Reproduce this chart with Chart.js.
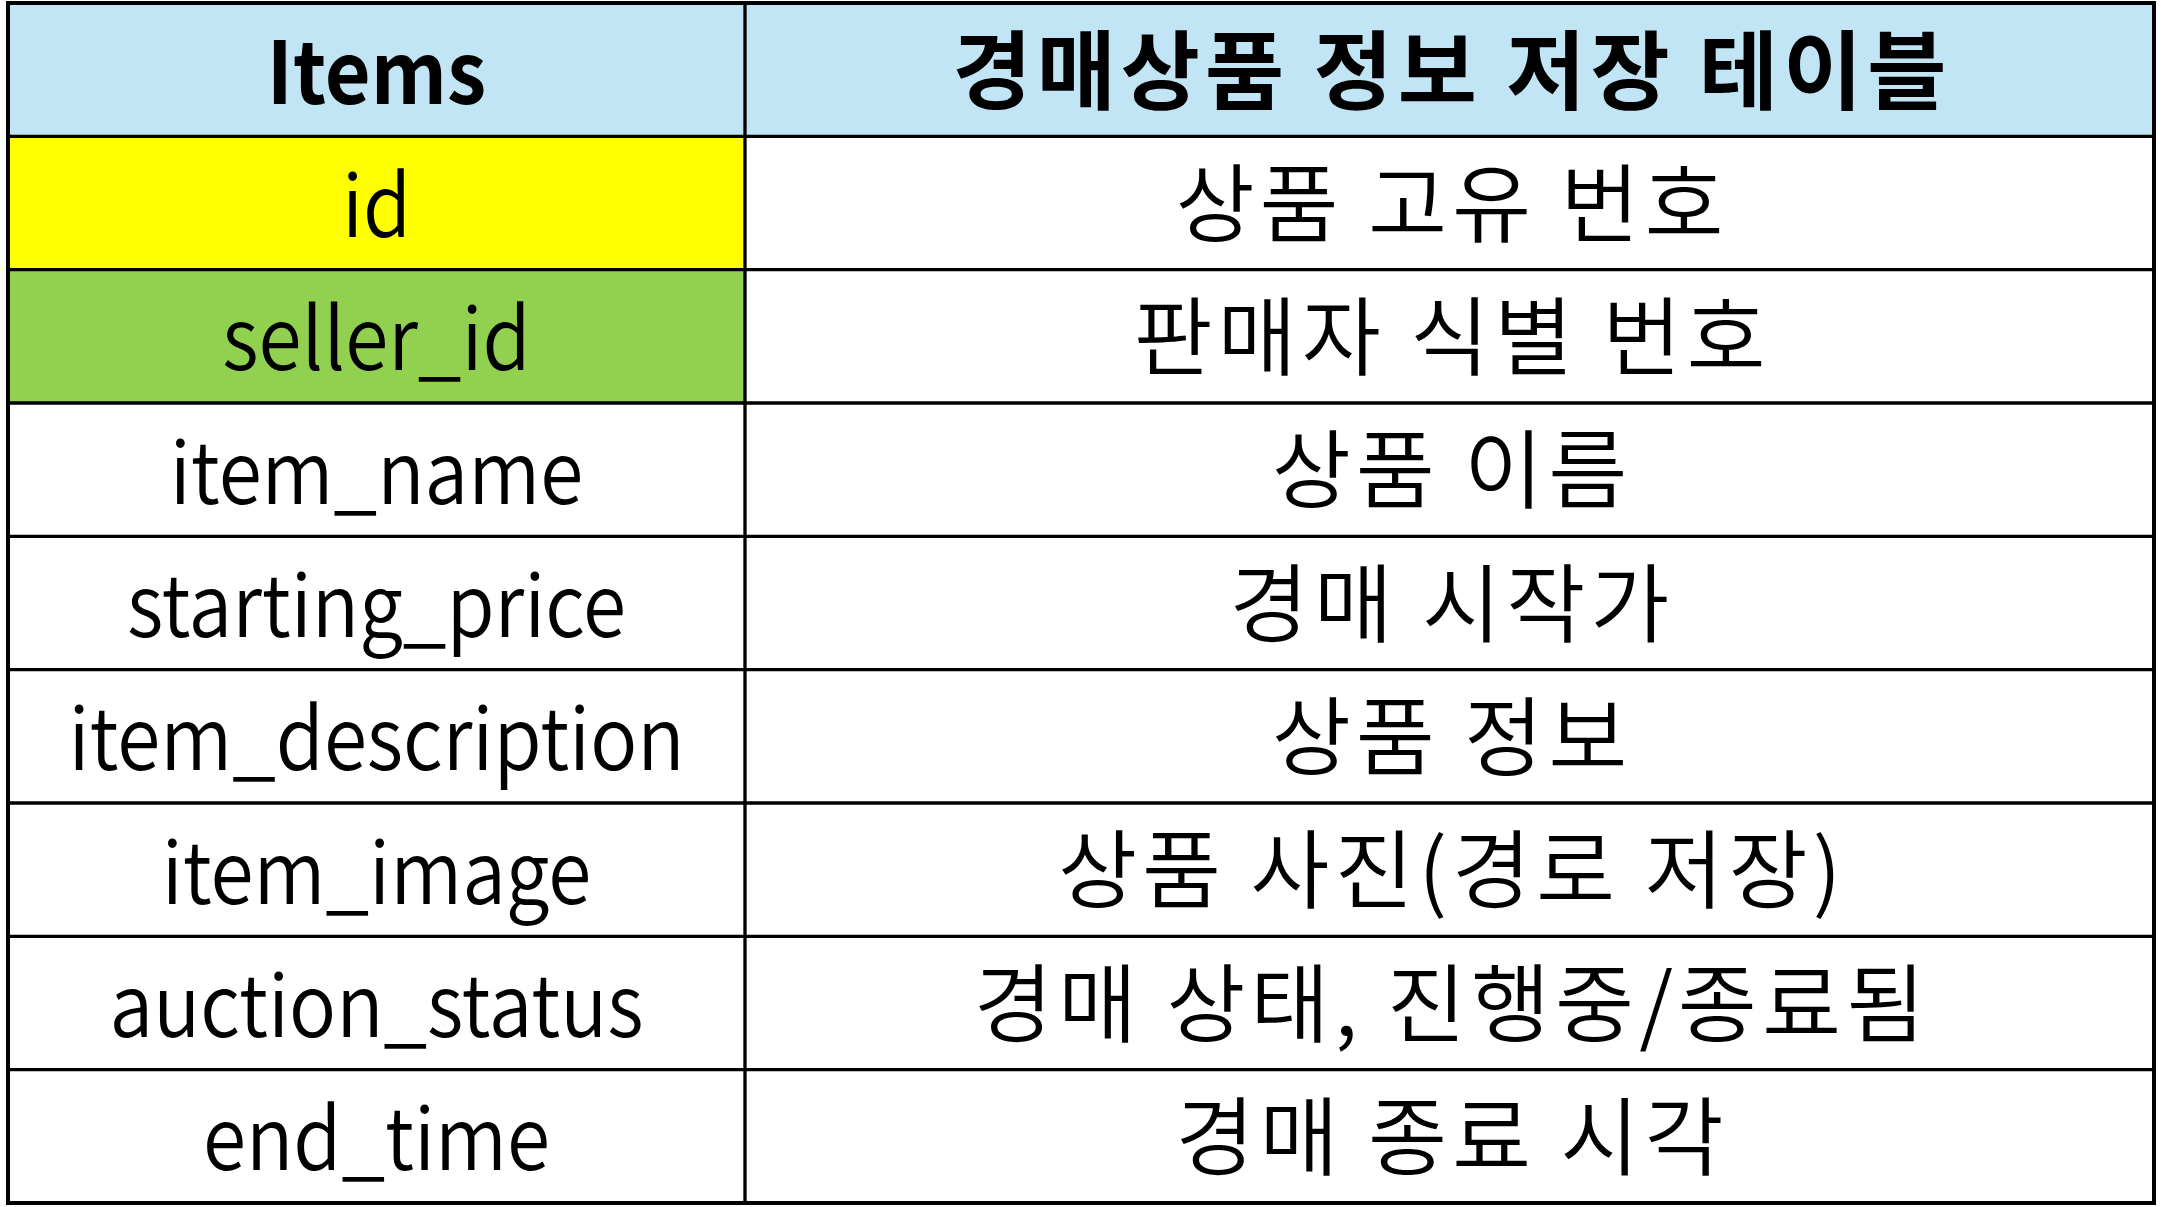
<!DOCTYPE html>
<html>
<head>
<meta charset="utf-8">
<script src="https://cdn.jsdelivr.net/npm/chart.js@4.4.1/dist/chart.umd.min.js"></script>
<style>
  html, body { margin: 0; padding: 0; background: #fff; }
  #wrap { width: 2161px; height: 1207px; }
</style>
</head>
<body>
<div id="wrap"><canvas id="tableChart"></canvas></div>
<script>
// table content
const columnHeaders = ["Items", "경매상품 정보 저장 테이블"];
const itemNames = ["id", "seller_id", "item_name", "starting_price", "item_description", "item_image", "auction_status", "end_time"];
const itemDescriptions = ["상품 고유 번호", "판매자 식별 번호", "상품 이름", "경매 시작가", "상품 정보", "상품 사진(경로 저장)", "경매 상태, 진행중/종료됨", "경매 종료 시각"];

// layout / styling
const colWidths = [737, 1409];
const headerColor = "#C2E5F5";
const keyColors = { id: "#FFFF00", seller_id: "#92D050" };
const fontSize = 86;
const fontFamily = "'Noto Sans CJK KR', 'Noto Sans', sans-serif";

const rowLabels = [columnHeaders[0]].concat(itemNames);
const cellTexts = [rowLabels, [columnHeaders[1]].concat(itemDescriptions)];

const firstColColors = rowLabels.map(function (name, i) {
  if (i === 0) return headerColor;
  return keyColors[name] || "#FFFFFF";
});
const secondColColors = rowLabels.map(function (name, i) {
  return i === 0 ? headerColor : "#FFFFFF";
});

// writes the cell texts in the middle of each bar
const cellText = {
  id: "cellText",
  afterDatasetsDraw: function (chart) {
    const ctx = chart.ctx;
    chart.data.datasets.forEach(function (ds, di) {
      chart.getDatasetMeta(di).data.forEach(function (bar, ri) {
        const p = bar.getProps(["x", "y", "base"], true);
        const text = cellTexts[di][ri];
        const bold = ri === 0;
        const hangul = /[\uAC00-\uD7A3]/.test(text);
        ctx.save();
        ctx.font = (bold ? "bold " : "350 ") + fontSize + "px " + fontFamily;
        ctx.fillStyle = "#000";
        ctx.textAlign = "center";
        ctx.textBaseline = "alphabetic";
        const m = ctx.measureText(hangul ? "경" : "Hd");
        const yb = p.y + (m.actualBoundingBoxAscent - m.actualBoundingBoxDescent) / 2;
        const cx = (p.x + p.base) / 2;
        ctx.translate(cx, yb);
        if (hangul) {
          // korean text in the original is spaced a bit wider
          ctx.letterSpacing = "5px";
          ctx.fillText(text, 2.5, 0);
        } else {
          // latin glyphs of the original font are narrower
          ctx.scale(bold ? 0.92 : 0.91, 1);
          ctx.fillText(text, 0, 0);
        }
        ctx.restore();
      });
    });
  }
};

// outer frame of the table
const tableFrame = {
  id: "tableFrame",
  afterDraw: function (chart) {
    const a = chart.chartArea;
    const ctx = chart.ctx;
    ctx.save();
    ctx.strokeStyle = "#000";
    ctx.lineWidth = 4;
    ctx.strokeRect(a.left, a.top, a.right - a.left, a.bottom - a.top);
    ctx.restore();
  }
};

new Chart("tableChart", {
  type: "bar",
  data: {
    labels: rowLabels,
    datasets: [
      {
        label: columnHeaders[0],
        data: rowLabels.map(function () { return colWidths[0]; }),
        backgroundColor: firstColColors,
        borderColor: "#000",
        borderWidth: 2,
        borderSkipped: false,
        categoryPercentage: 1,
        barPercentage: 1,
      },
      {
        label: columnHeaders[1],
        data: rowLabels.map(function () { return colWidths[1]; }),
        backgroundColor: secondColColors,
        borderColor: "#000",
        borderWidth: 2,
        borderSkipped: false,
        categoryPercentage: 1,
        barPercentage: 1,
      },
    ],
  },
  options: {
    indexAxis: "y",
    responsive: true,
    maintainAspectRatio: false,
    devicePixelRatio: 1,
    animation: false,
    layout: { padding: { left: 8, top: 3, right: 7, bottom: 4 } },
    plugins: {
      legend: { display: false },
      tooltip: { enabled: false },
    },
    scales: {
      x: { stacked: true, display: false, min: 0, max: colWidths[0] + colWidths[1] },
      y: { stacked: true, display: false },
    },
  },
  plugins: [cellText, tableFrame],
});
</script>
</body>
</html>
